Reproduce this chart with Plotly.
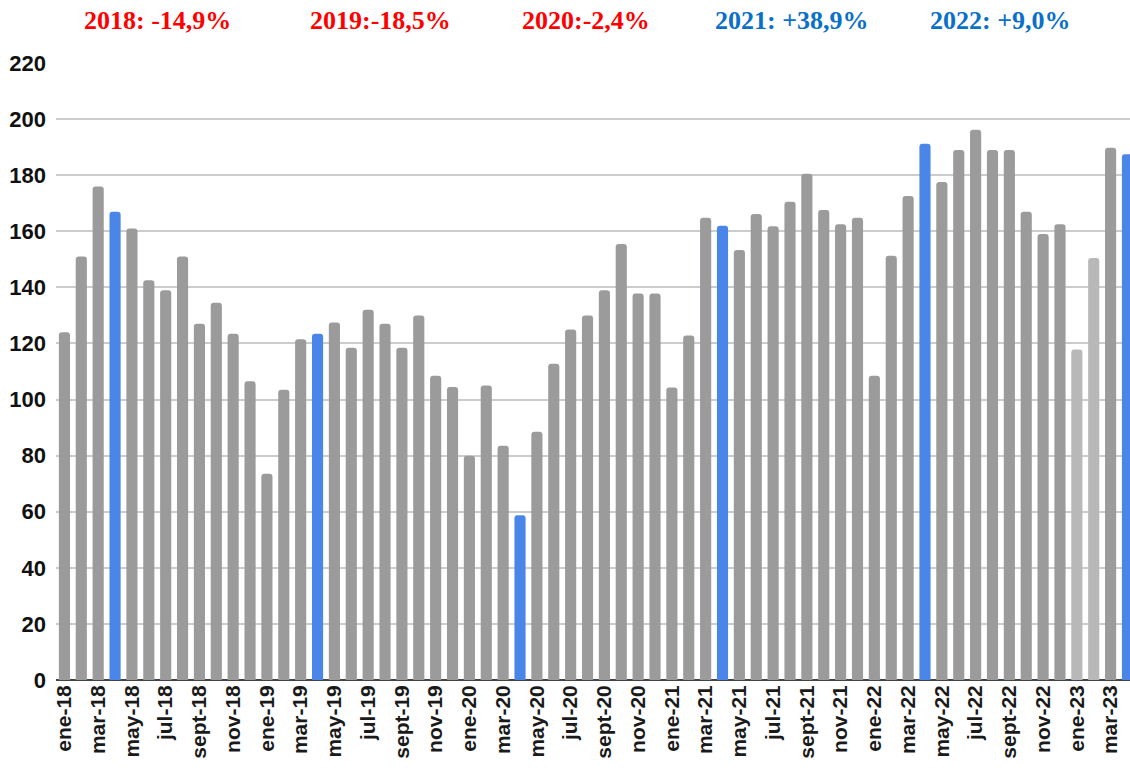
import plotly.graph_objects as go

# months ene-18 .. abr-23
month_names = ["ene", "feb", "mar", "abr", "may", "jun",
               "jul", "ago", "sept", "oct", "nov", "dic"]
years = ["18", "19", "20", "21", "22", "23"]
months = [f"{m}-{y}" for y in years for m in month_names][:64]

values = [
    124, 151, 176, 167, 161, 142.5, 139, 151, 127, 134.5, 123.5, 106.5,   # 2018
    73.5, 103.5, 121.5, 123.5, 127.5, 118.5, 132, 127, 118.5, 130, 108.5, 104.5,  # 2019
    80, 105, 83.5, 58.7, 88.5, 112.8, 125, 130, 139, 155.5, 137.8, 137.8,  # 2020
    104.3, 122.8, 164.8, 162, 153.3, 166.2, 161.8, 170.5, 180.5, 167.6, 162.5, 164.8,  # 2021
    108.5, 151.3, 172.6, 191.2, 177.6, 189, 196.2, 189, 189, 167, 159, 162.5,  # 2022
    117.8, 150.5, 189.8, 187.5,  # 2023
]

highlight_months = ["abr-18", "abr-19", "abr-20", "abr-21", "abr-22", "abr-23"]
provisional_months = ["ene-23", "feb-23"]

year_labels = ["2018: -14,9%", "2019:-18,5%", "2020:-2,4%", "2021: +38,9%", "2022: +9,0%"]
year_label_px = [157, 380, 586, 791, 1000]  # label centres in window pixels

tick_months = months[::2]

GREY = "#9b9b9b"
BLUE = "#4a86e8"
LIGHT = "#b8b8b8"

W, H = 1130, 772
L, R, T, B = 56, 0, 63, 92

colors = []
for m in months:
    if m in highlight_months:
        colors.append(BLUE)
    elif m in provisional_months:
        colors.append(LIGHT)
    else:
        colors.append(GREY)

fig = go.Figure()
fig.add_trace(go.Bar(
    x=months, y=values,
    marker=dict(color=colors, line=dict(width=0)),
    showlegend=False,
))

plot_w = W - L - R
plot_h = H - T - B
for txt, px in zip(year_labels, year_label_px):
    fig.add_annotation(
        x=(px - L) / plot_w, y=(H - B - 20) / plot_h,
        xref="paper", yref="paper", xanchor="center", yanchor="middle",
        text=txt, showarrow=False,
        font=dict(family="Liberation Serif, serif", size=26, weight="bold",
                  color="#ff0000" if "-" in txt else "#0b70c8"),
    )

fig.update_layout(
    width=W, height=H,
    margin=dict(l=L, r=R, t=T, b=B),
    paper_bgcolor="white",
    plot_bgcolor="white",
    bargap=0.34,
    barcornerradius=3,
    xaxis=dict(
        type="category",
        range=[-0.5, 63.15],
        tickmode="array",
        tickvals=tick_months,
        ticktext=tick_months,
        tickangle=-90,
        tickfont=dict(family="Liberation Sans, Arial, sans-serif", size=21,
                      weight="bold", color="#1a1a1a"),
        showgrid=False,
        ticks="",
        showline=False,
        automargin=False,
    ),
    yaxis=dict(
        range=[0, 220],
        tickvals=list(range(0, 221, 20)),
        tickfont=dict(family="Liberation Sans, Arial, sans-serif",
                      size=22, weight="bold", color="#111111"),
        gridcolor="#cccccc",
        gridwidth=1.5,
        zeroline=True,
        zerolinecolor="#444444",
        zerolinewidth=1.5,
        ticks="",
        ticklabelstandoff=9,
        automargin=False,
    ),
)

# drop the default body margin so the figure sits at the window origin
fig.write_html("out.html", config={"displayModeBar": False},
               post_script="document.body.style.margin='0';")
